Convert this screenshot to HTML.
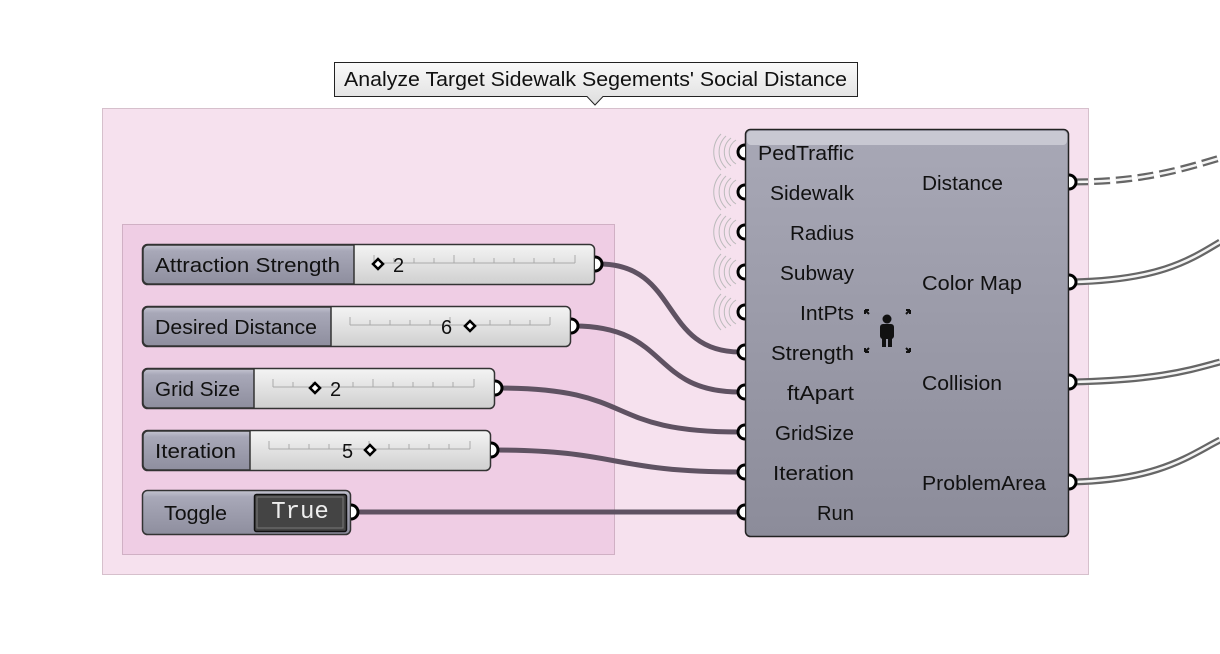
<!DOCTYPE html>
<html><head><meta charset="utf-8"><style>
body{margin:0;background:#fff;}
svg{display:block;font-family:"Liberation Sans",sans-serif;}
</style></head><body>
<svg width="1220" height="654" viewBox="0 0 1220 654">
<defs>
<linearGradient id="lab" x1="0" y1="0" x2="0" y2="1"><stop offset="0" stop-color="#c4c4d0"/><stop offset="0.15" stop-color="#a8a8b8"/><stop offset="1" stop-color="#8e8e9e"/></linearGradient>
<linearGradient id="sl" x1="0" y1="0" x2="0" y2="1"><stop offset="0" stop-color="#f4f4f4"/><stop offset="1" stop-color="#cfcfcf"/></linearGradient>
<linearGradient id="comp" x1="0" y1="0" x2="0" y2="1"><stop offset="0" stop-color="#a8a8b6"/><stop offset="1" stop-color="#8c8c9a"/></linearGradient>
<linearGradient id="tit" x1="0" y1="0" x2="0" y2="1"><stop offset="0" stop-color="#fafafa"/><stop offset="1" stop-color="#dedede"/></linearGradient>
</defs>
<rect x="102.5" y="108.5" width="986" height="466" fill="#f6e1ee" stroke="#d6c0cc"/>
<rect x="122.5" y="224.5" width="492" height="330" fill="#efcde4" stroke="#d0b0c4"/>
<path d="M334.5 62.5H857.5V96.5H603L595 105L587 96.5H334.5Z" fill="url(#tit)" stroke="#222"/>
<text x="344" y="86" font-size="20" textLength="503" lengthAdjust="spacingAndGlyphs" fill="#111">Analyze Target Sidewalk Segements' Social Distance</text>

<!-- output wires -->
<g fill="none" stroke="#666" stroke-width="7">
<path d="M1072 182 C1140 182 1180 170 1220 158" stroke-dasharray="16 6"/>
<path d="M1072 282 C1160 280 1190 260 1220 242"/>
<path d="M1072 382 C1160 380 1190 370 1220 362"/>
<path d="M1072 482 C1160 480 1190 455 1220 440"/>
</g>
<g fill="none" stroke="#f4f4f4" stroke-width="2.5">
<path d="M1072 182 C1140 182 1180 170 1220 158" stroke-dasharray="16 6"/>
<path d="M1072 282 C1160 280 1190 260 1220 242"/>
<path d="M1072 382 C1160 380 1190 370 1220 362"/>
<path d="M1072 482 C1160 480 1190 455 1220 440"/>
</g>

<!-- input wires -->
<g fill="none" stroke="#5f5262" stroke-width="5">
<path d="M599 264 C680 264 660 352 740 352"/>
<path d="M574 326 C670 326 650 392 740 392"/>
<path d="M498 388 C640 388 600 432 740 432"/>
<path d="M494 450 C620 450 610 472 740 472"/>
<path d="M354 512 L740 512"/>
</g>

<!-- sliders -->
<g stroke="#333" stroke-width="1.5">
<rect x="142.5" y="244.5" width="452" height="40" rx="5" fill="url(#sl)"/>
<path d="M354 245H148a5 5 0 0 0-5 5V279a5 5 0 0 0 5 5H354Z" fill="url(#lab)"/>
<rect x="142.5" y="306.5" width="428" height="40" rx="5" fill="url(#sl)"/>
<path d="M331 307H148a5 5 0 0 0-5 5V341a5 5 0 0 0 5 5H331Z" fill="url(#lab)"/>
<rect x="142.5" y="368.5" width="352" height="40" rx="5" fill="url(#sl)"/>
<path d="M254 369H148a5 5 0 0 0-5 5V403a5 5 0 0 0 5 5H254Z" fill="url(#lab)"/>
<rect x="142.5" y="430.5" width="348" height="40" rx="5" fill="url(#sl)"/>
<path d="M250 431H148a5 5 0 0 0-5 5V465a5 5 0 0 0 5 5H250Z" fill="url(#lab)"/>
<rect x="142.5" y="490.5" width="208" height="44" rx="5" fill="url(#lab)"/>
<rect x="254.5" y="494.5" width="92" height="37" rx="2" fill="#444" stroke="#111"/>
</g>
<rect x="257" y="497" width="86" height="31" fill="none" stroke="#777" stroke-width="1"/>
<g font-size="20" fill="#111" lengthAdjust="spacingAndGlyphs">
<text x="155" y="272" textLength="185" lengthAdjust="spacingAndGlyphs">Attraction Strength</text>
<text x="155" y="334" textLength="162" lengthAdjust="spacingAndGlyphs">Desired Distance</text>
<text x="155" y="396" textLength="85" lengthAdjust="spacingAndGlyphs">Grid Size</text>
<text x="155" y="458" textLength="81" lengthAdjust="spacingAndGlyphs">Iteration</text>
<text x="164" y="520" textLength="63" lengthAdjust="spacingAndGlyphs">Toggle</text>
</g>
<text x="300" y="518" font-size="24" fill="#eee" text-anchor="middle" font-family="Liberation Mono,monospace">True</text>
<!-- tick lines -->
<g stroke="#aaa" stroke-width="1" fill="none">
<path d="M374 263H575M374 255V263M394 258V263M414 258V263M434 258V263M454 255V263M474 258V263M494 258V263M514 258V263M534 258V263M554 258V263M575 255V263"/>
<path d="M350 325H550M350 317V325M370 320V325M390 320V325M410 320V325M430 320V325M450 317V325M470 320V325M490 320V325M510 320V325M530 320V325M550 317V325"/>
<path d="M273 387H474M273 379V387M293 382V387M313 382V387M333 382V387M353 382V387M373 379V387M393 382V387M413 382V387M433 382V387M453 382V387M474 379V387"/>
<path d="M269 449H470M269 441V449M289 444V449M309 444V449M329 444V449M349 444V449M369 441V449M389 444V449M409 444V449M429 444V449M449 444V449M470 441V449"/>
</g>
<g fill="#fff" stroke="#000" stroke-width="2.5">
<path d="M378 259l5 5-5 5-5-5z"/>
<path d="M470 321l5 5-5 5-5-5z"/>
<path d="M315 383l5 5-5 5-5-5z"/>
<path d="M370 445l5 5-5 5-5-5z"/>
</g>
<g font-size="20" fill="#111">
<text x="393" y="272">2</text>
<text x="441" y="334">6</text>
<text x="330" y="396">2</text>
<text x="342" y="458">5</text>
</g>
<!-- slider ports -->
<g fill="#fff" stroke="#000" stroke-width="3">
<path d="M595 257a7 7 0 0 1 0 14"/>
<path d="M571 319a7 7 0 0 1 0 14"/>
<path d="M495 381a7 7 0 0 1 0 14"/>
<path d="M491 443a7 7 0 0 1 0 14"/>
<path d="M351 505a7 7 0 0 1 0 14"/>
</g>

<!-- component -->
<g fill="none" stroke="#bbb" stroke-width="1">
<path d="M736 140a14 14 0 0 0 0 24M731 138a18 18 0 0 0 0 28M726 136a22 22 0 0 0 0 32M721 134a26 26 0 0 0 0 36"/>
<path d="M736 180a14 14 0 0 0 0 24M731 178a18 18 0 0 0 0 28M726 176a22 22 0 0 0 0 32M721 174a26 26 0 0 0 0 36"/>
<path d="M736 220a14 14 0 0 0 0 24M731 218a18 18 0 0 0 0 28M726 216a22 22 0 0 0 0 32M721 214a26 26 0 0 0 0 36"/>
<path d="M736 260a14 14 0 0 0 0 24M731 258a18 18 0 0 0 0 28M726 256a22 22 0 0 0 0 32M721 254a26 26 0 0 0 0 36"/>
<path d="M736 300a14 14 0 0 0 0 24M731 298a18 18 0 0 0 0 28M726 296a22 22 0 0 0 0 32M721 294a26 26 0 0 0 0 36"/>
</g>
<rect x="745.5" y="129.5" width="323" height="407" rx="5" fill="url(#comp)" stroke="#222" stroke-width="1.5"/>
<rect x="747" y="131" width="320" height="14" rx="4" fill="#c8c8d2"/>
<g font-size="20" fill="#111">
<text x="758" y="160" textLength="96" lengthAdjust="spacingAndGlyphs">PedTraffic</text>
<text x="770" y="200" textLength="84" lengthAdjust="spacingAndGlyphs">Sidewalk</text>
<text x="790" y="240" textLength="64" lengthAdjust="spacingAndGlyphs">Radius</text>
<text x="780" y="280" textLength="74" lengthAdjust="spacingAndGlyphs">Subway</text>
<text x="800" y="320" textLength="54" lengthAdjust="spacingAndGlyphs">IntPts</text>
<text x="771" y="360" textLength="83" lengthAdjust="spacingAndGlyphs">Strength</text>
<text x="787" y="400" textLength="67" lengthAdjust="spacingAndGlyphs">ftApart</text>
<text x="775" y="440" textLength="79" lengthAdjust="spacingAndGlyphs">GridSize</text>
<text x="773" y="480" textLength="81" lengthAdjust="spacingAndGlyphs">Iteration</text>
<text x="817" y="520" textLength="37" lengthAdjust="spacingAndGlyphs">Run</text>
<text x="922" y="190" textLength="81" lengthAdjust="spacingAndGlyphs">Distance</text>
<text x="922" y="290" textLength="100" lengthAdjust="spacingAndGlyphs">Color Map</text>
<text x="922" y="390" textLength="80" lengthAdjust="spacingAndGlyphs">Collision</text>
<text x="922" y="490" textLength="124" lengthAdjust="spacingAndGlyphs">ProblemArea</text>
</g>
<g fill="#fff" stroke="#000" stroke-width="3">
<path d="M745 145a7 7 0 0 0 0 14M745 185a7 7 0 0 0 0 14M745 225a7 7 0 0 0 0 14M745 265a7 7 0 0 0 0 14M745 305a7 7 0 0 0 0 14M745 345a7 7 0 0 0 0 14M745 385a7 7 0 0 0 0 14M745 425a7 7 0 0 0 0 14M745 465a7 7 0 0 0 0 14M745 505a7 7 0 0 0 0 14"/>
<path d="M1069 175a7 7 0 0 1 0 14M1069 275a7 7 0 0 1 0 14M1069 375a7 7 0 0 1 0 14M1069 475a7 7 0 0 1 0 14"/>
</g>
<!-- icon -->
<g fill="#111">
<circle cx="887" cy="319" r="4.5"/>
<rect x="880" y="324" width="14" height="15" rx="3"/>
<rect x="882" y="336" width="4" height="11"/>
<rect x="888" y="336" width="4" height="11"/>
</g>
<g stroke="#111" stroke-width="2" fill="none">
<path d="M865 310l4 4M865 310h4M865 310v4"/>
<path d="M910 310l-4 4M910 310h-4M910 310v4"/>
<path d="M865 352l4-4M865 352h4M865 352v-4"/>
<path d="M910 352l-4-4M910 352h-4M910 352v-4"/>
</g>
</svg>
</body></html>
